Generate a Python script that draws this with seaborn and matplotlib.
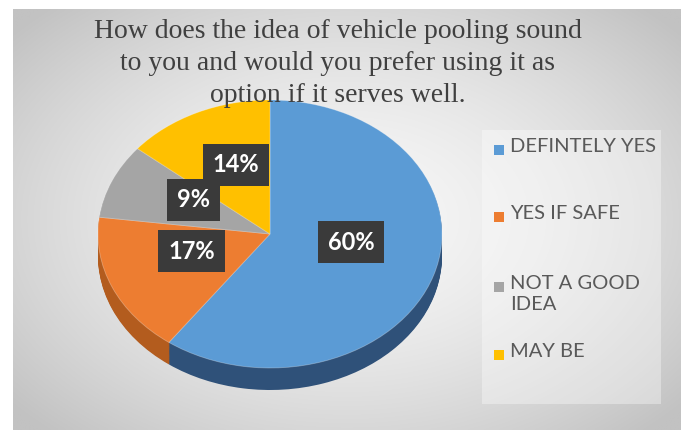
import numpy as np
import matplotlib
matplotlib.use("Agg")
import matplotlib.pyplot as plt
import seaborn as sns
from matplotlib.patches import Rectangle
from matplotlib.colors import to_rgb

sns.set_theme(style="white")

# ---- data ----
categories = ["DEFINTELY YES", "YES IF SAFE", "NOT A GOOD\nIDEA", "MAY BE"]
values = [60, 17, 9, 14]
pct_labels = ["60%", "17%", "9%", "14%"]
title = ("How does the idea of vehicle pooling sound\n"
         "to you and would you prefer using it as\n"
         "option if it serves well.")

# ---- style ----
top_colors = ["#5b9bd5", "#ed7d31", "#a5a5a5", "#ffc000"]
side_colors = ["#2f5179", "#b35c1e", "#7b7b7b", "#bf9000"]
label_pos = [(0.470, -0.060), (-0.456, -0.127), (-0.445, 0.254), (-0.198, 0.515)]

W, H = 688, 430
fig = plt.figure(figsize=(W / 100, H / 100), dpi=100)
fig.patch.set_facecolor("white")

# background gradient panel
bx0, bx1, by0 = 13, 681, 9
bg = fig.add_axes([bx0 / W, 0, (bx1 - bx0) / W, (H - by0) / H])
ny, nx = 200, 300
yy, xx = np.mgrid[-1:1:ny * 1j, -1:1:nx * 1j]
r = np.clip(np.sqrt((xx * 0.95) ** 2 + (yy * 0.9) ** 2) / 1.25, 0, 1)
c_in = np.array(to_rgb("#f7f7f7"))
c_out = np.array(to_rgb("#c2c2c2"))
img = c_in[None, None, :] * (1 - r[..., None] ** 1.6) + c_out[None, None, :] * (r[..., None] ** 1.6)
bg.imshow(img, aspect="auto", extent=[0, 1, 0, 1], interpolation="bilinear")
bg.set_xlim(0, 1)
bg.set_ylim(0, 1)
bg.axis("off")

# legend panel (lighter)
fig.patches.append(Rectangle((482 / W, 1 - 404 / H), (661 - 482) / W, (404 - 130) / H,
                             transform=fig.transFigure, facecolor="white", alpha=0.35,
                             edgecolor="none", zorder=1))

# pie axes (ellipse mapping)
cx, cy, rx, ry, depth = 270, 234, 172, 134, 22
d = depth / ry
m = 1.1
axw = rx * 2 * m
axh = ry * (2 * m + d)
left = cx - rx * m
top = cy - ry * m
ax = fig.add_axes([left / W, 1 - (top + axh) / H, axw / W, axh / H])
ax.patch.set_alpha(0)

nlayers = 24
for k in range(nlayers, 0, -1):
    off = d * k / nlayers
    ax.pie(values, colors=side_colors, startangle=90, counterclock=False,
           center=(0, -off), radius=1.0, wedgeprops=dict(linewidth=0, antialiased=True))
wedges, _ = ax.pie(values, colors=top_colors, startangle=90, counterclock=False,
                   center=(0, 0), radius=1.0,
                   wedgeprops=dict(linewidth=0.6, edgecolor=(1, 1, 1, 0.3)))
ax.set_aspect("auto")
ax.set_xlim(-m, m)
ax.set_ylim(-m - d, m)
ax.axis("off")

for (lx, ly), txt in zip(label_pos, pct_labels):
    ax.text(lx, ly, txt, ha="center", va="center", color="white", fontsize=17,
            fontweight="bold", family="Lato",
            bbox=dict(boxstyle="square,pad=0.42", fc="#3a3a3a", ec="none"))

# title (drawn above the pie, as in the reference)
fig.text(338 / W, 1 - 19 / H, title, ha="center", va="top", fontsize=20,
         family="Liberation Serif", color="#404040", linespacing=1.36, zorder=5)

# legend (manual)
leg_y = [150, 217, 287, 355]
for col, lab, y in zip(top_colors, categories, leg_y):
    fig.patches.append(Rectangle((494 / W, 1 - (y + 5) / H), 10 / W, 10 / H,
                                 transform=fig.transFigure, facecolor=col,
                                 edgecolor="none", zorder=3))
    fig.text(510 / W, 1 - (y - 12) / H, lab, ha="left", va="top", fontsize=14.5,
             family="Lato", color="#595959", linespacing=1.3)

fig.savefig("out.png", dpi=100)
